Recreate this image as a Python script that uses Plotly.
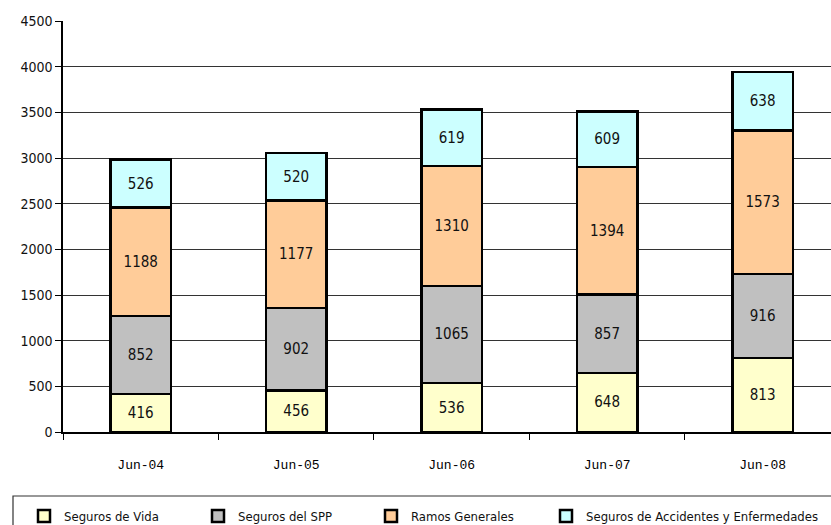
import plotly.graph_objects as go

categories = ["Jun-04", "Jun-05", "Jun-06", "Jun-07", "Jun-08"]
vida = [416, 456, 536, 648, 813]
spp = [852, 902, 1065, 857, 916]
ramos = [1188, 1177, 1310, 1394, 1573]
accidentes = [526, 520, 619, 609, 638]

series = [
    ("Seguros de Vida", vida, "#FFFFCC"),
    ("Seguros del SPP", spp, "#C0C0C0"),
    ("Ramos Generales", ramos, "#FFCC99"),
    ("Seguros de Accidentes y Enfermedades", accidentes, "#CCFFFF"),
]

NARROW = "DejaVu Sans Condensed, Liberation Sans Narrow, Arial Narrow, Roboto, sans-serif"

L, T, B = 63, 21, 93
W, H = 831, 525
pw, ph = W - L, H - T - B

def px2x(p):
    return (p - L) / pw

def px2y(p):
    return (H - B - p) / ph

legend_px = [24, 198, 371, 546]
legend_keys = ["legend", "legend2", "legend3", "legend4"]

fig = go.Figure()
for (name, vals, col), lk in zip(series, legend_keys):
    fig.add_trace(go.Bar(
        x=categories, y=vals, name=name, legend=lk,
        marker=dict(color=col, line=dict(color="black", width=2.5)),
        text=[str(v) for v in vals], textposition="inside",
        insidetextanchor="middle", textangle=0,
        textfont=dict(family=NARROW, size=15, color="#111"),
        width=0.39,
    ))

legend_layout = {}
for lk, lx in zip(legend_keys, legend_px):
    legend_layout[lk] = dict(
        orientation="h", x=px2x(lx), xanchor="left",
        y=px2y(516), yanchor="middle",
        font=dict(family=NARROW, size=13, color="#111"),
        itemwidth=30,
        bgcolor="rgba(0,0,0,0)", borderwidth=0,
    )

fig.update_layout(
    barmode="stack",
    width=W, height=H,
    margin=dict(l=L, r=0, t=T, b=B, pad=0, autoexpand=False),
    plot_bgcolor="white", paper_bgcolor="white",
    showlegend=True,
    yaxis=dict(
        range=[0, 4500], dtick=500, tick0=0,
        showgrid=True, gridcolor="#333333", gridwidth=1,
        showline=True, linecolor="black", linewidth=1.5,
        ticks="outside", ticklen=6, tickcolor="black",
        tickfont=dict(family=NARROW, size=14, color="#111"),
        zeroline=False,
    ),
    xaxis=dict(
        type="category", range=[-0.5, 4.44],
        showline=True, linecolor="black", linewidth=1.5,
        ticks="outside", ticklen=6, tickcolor="black", tickson="boundaries",
        tickfont=dict(family="Liberation Mono, Courier New, monospace", size=13, color="#000"),
        ticklabelstandoff=20,
        showgrid=False,
    ),
    shapes=[dict(
        type="rect", xref="paper", yref="paper",
        x0=px2x(13), x1=px2x(900), y0=px2y(496), y1=px2y(560),
        line=dict(color="#333", width=1.2), fillcolor="rgba(0,0,0,0)",
    )],
    **legend_layout,
)

fig.write_html("out.html")
